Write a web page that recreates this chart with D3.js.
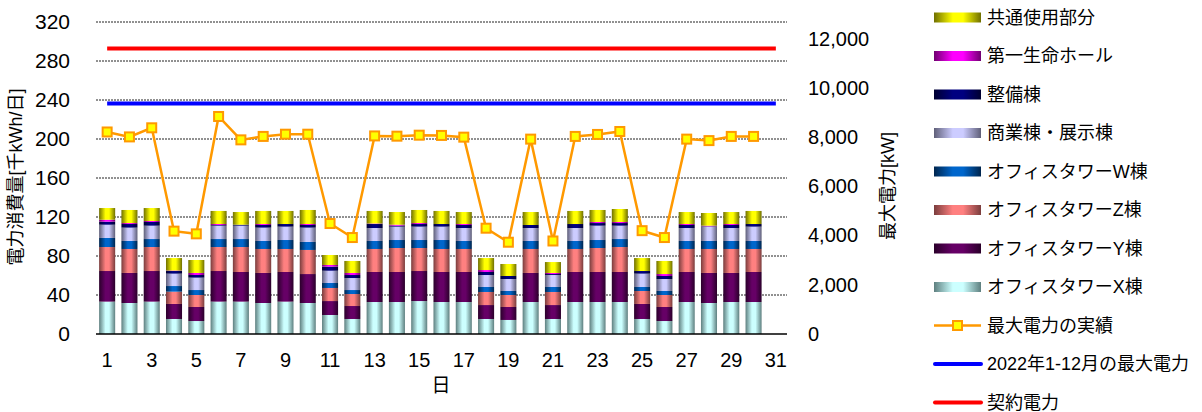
<!DOCTYPE html>
<html>
<head>
<meta charset="utf-8">
<script src="https://cdn.jsdelivr.net/npm/d3@7"></script>
<style>
  body { margin: 0; background: #fff; }
  svg text { font-family: "Liberation Sans", Arial, "Noto Sans CJK JP", sans-serif; fill: #000; }
</style>
</head>
<body>
<svg id="chart"></svg>
<script>
var width = 1202;
var height = 412;

// days on the x axis (the month has 31 slots, data for 30)
const days = d3.range(1, 32)
const tickDays = days.filter(d => d % 2 == 1)

// stacked series, bottom to top (千kWh/日)
const towerX = [33.2, 31.8, 33.2, 15.4, 13.3, 33.2, 33.2, 31.8, 33.2, 31.8, 19.5, 15.4, 32.8, 32.8, 33.8, 32.8, 32.8, 15.4, 14.4, 32.8, 15.4, 32.8, 32.8, 32.8, 15.4, 13.3, 32.8, 31.8, 32.8, 32.8]
const towerY = [31.4, 30.8, 31.4, 15.4, 14.4, 31.4, 30.4, 30.8, 30.4, 29.7, 14.3, 13.3, 30.8, 30.8, 30.8, 30.8, 30.8, 14.3, 13.3, 29.8, 14.3, 30.8, 30.8, 30.8, 15.4, 14.4, 30.8, 30.8, 29.8, 30.8]
const towerZ = [24.6, 24.6, 24.6, 12.6, 12.3, 24.6, 25.6, 24.6, 23.6, 24.7, 13.4, 12.3, 23.6, 24.6, 23.6, 23.6, 23.6, 13.4, 12.3, 24.6, 13.4, 23.6, 24.6, 25.6, 13.3, 12.3, 23.6, 24.6, 24.6, 23.6]
const towerW = [9.3, 8.2, 8.2, 5.8, 5.1, 8.2, 8.2, 8.2, 9.2, 8.2, 5.1, 4.1, 8.2, 8.2, 8.2, 9.2, 8.2, 5.1, 4.1, 8.2, 5.1, 8.2, 8.2, 8.2, 4.1, 4.1, 8.2, 8.2, 8.2, 8.2]
const shops = [13.6, 13.7, 13.7, 12.7, 12.7, 13.7, 13.7, 13.7, 13.7, 14.7, 12.6, 12.3, 13.3, 13.7, 13.7, 13.7, 13.3, 12.3, 12.3, 13.3, 12.3, 13.3, 14.7, 13.7, 13.7, 12.3, 13.3, 14.7, 13.3, 14.7]
const service = [3.1, 3.7, 3.8, 2.7, 2.7, 0.7, 1.0, 2.7, 2.7, 2.7, 4.2, 3.1, 4.1, 1.0, 2.7, 2.7, 3.1, 3.1, 3.1, 3.1, 1.0, 4.1, 2.7, 2.7, 2.7, 3.1, 3.1, 0.4, 3.1, 2.7]
const hall = [2.0, 1.0, 1.0, 0.5, 2.1, 1.0, 0, 1.0, 0, 1.0, 1.7, 2.1, 0.5, 1.0, 1.0, 0, 1.0, 2.0, 0, 0, 1.1, 0, 1.1, 1.1, 0, 2.0, 1.0, 0.6, 1.0, 0]
const common = [12.0, 13.4, 13.3, 12.8, 13.3, 13.4, 13.0, 13.4, 13.4, 14.4, 10.2, 12.3, 12.9, 13.0, 13.4, 13.4, 12.3, 12.3, 12.3, 13.3, 11.2, 13.4, 12.3, 13.3, 13.3, 13.4, 12.3, 13.0, 12.3, 13.4]

// daily peak power (kW)
const peakKw = [8210, 8010, 8380, 4180, 4070, 8840, 7890, 8030, 8120, 8120, 4490, 3920, 8050, 8040, 8080, 8070, 8000, 4300, 3730, 7920, 3780, 8030, 8110, 8230, 4200, 3920, 7920, 7860, 8030, 8030]
const maxPower2022 = 9370
const contractPower = 11600

const seriesNames = ['オフィスタワーX棟', 'オフィスタワーY棟', 'オフィスタワーZ棟', 'オフィスタワーW棟', '商業棟・展示棟', '整備棟', '第一生命ホール', '共通使用部分']
const seriesData = [towerX, towerY, towerZ, towerW, shops, service, hall, common]
// [edge colour, centre colour]
const seriesColors = [
    ['#5e7f7f', '#ccffff'],
    ['#2a002a', '#660066'],
    ['#7a3d3d', '#ff8080'],
    ['#00254d', '#0066cc'],
    ['#5f5f78', '#ccccff'],
    ['#000030', '#000080'],
    ['#700070', '#ff00ff'],
    ['#6f6f00', '#ffff00']
]

const leftTicks = d3.range(0, 321, 40)
const rightTicks = d3.range(0, 12001, 2000)

var svg = d3.select('#chart').attr('width', width).attr('height', height)

var x = d3.scaleBand().domain(days).range([96, 787]).paddingInner(0.28).paddingOuter(0.14)
var yLeft = d3.scaleLinear().domain([0, 320]).range([334, 22])
var yRight = d3.scaleLinear().domain([0, 12680]).range([334, 22])

// gradients for the cylinder look
var defs = svg.append('defs')
seriesColors.forEach((c, i) => {
    let g = defs.append('linearGradient').attr('id', 'grad' + i)
        .attr('x1', '0%').attr('x2', '100%').attr('y1', '0%').attr('y2', '0%')
    g.append('stop').attr('offset', '0%').attr('stop-color', c[0])
    g.append('stop').attr('offset', '40%').attr('stop-color', c[1])
    g.append('stop').attr('offset', '62%').attr('stop-color', c[1])
    g.append('stop').attr('offset', '100%').attr('stop-color', c[0])
})

// gridlines
svg.append('g')
    .selectAll('line')
    .data(leftTicks.filter(d => d > 0))
    .enter()
    .append('line')
    .attr('x1', 96).attr('x2', 787)
    .attr('y1', d => yLeft(d)).attr('y2', d => yLeft(d))
    .attr('stroke', '#222')
    .attr('stroke-width', 1)
    .attr('stroke-dasharray', '2,1')

// stacked bars
var table = towerX.map((v, i) => {
    let row = { day: i + 1 }
    seriesData.forEach((s, k) => { row['s' + k] = s[i] })
    return row
})
var stack = d3.stack().keys(seriesData.map((s, k) => 's' + k))
var layers = stack(table)

svg.append('g')
    .selectAll('g')
    .data(layers)
    .enter()
    .append('g')
    .attr('fill', (d, i) => 'url(#grad' + i + ')')
    .selectAll('rect')
    .data(d => d)
    .enter()
    .append('rect')
    .attr('x', d => x(d.data.day))
    .attr('width', x.bandwidth())
    .attr('y', d => yLeft(d[1]))
    .attr('height', d => Math.max(0, yLeft(d[0]) - yLeft(d[1])))

// baseline
svg.append('line')
    .attr('x1', 96).attr('x2', 787)
    .attr('y1', yLeft(0)).attr('y2', yLeft(0))
    .attr('stroke', '#000').attr('stroke-width', 1.5)

// reference lines
var cx = d => x(d) + x.bandwidth() / 2
var flatLine = d3.line().x(d => cx(d.day)).y(d => yRight(d.v))

svg.append('path')
    .datum(days.map(d => ({ day: d, v: maxPower2022 })))
    .attr('d', flatLine)
    .attr('fill', 'none').attr('stroke', '#0000ff').attr('stroke-width', 4)

svg.append('path')
    .datum(days.map(d => ({ day: d, v: contractPower })))
    .attr('d', flatLine)
    .attr('fill', 'none').attr('stroke', '#ff0000').attr('stroke-width', 4)

// daily peak line
var peakData = peakKw.map((v, i) => ({ day: i + 1, v: v }))
svg.append('path')
    .datum(peakData)
    .attr('d', flatLine)
    .attr('fill', 'none').attr('stroke', '#ff9900').attr('stroke-width', 2.5)

svg.append('g')
    .selectAll('rect')
    .data(peakData)
    .enter()
    .append('rect')
    .attr('x', d => cx(d.day) - 4.5)
    .attr('y', d => yRight(d.v) - 4.5)
    .attr('width', 9).attr('height', 9)
    .attr('fill', '#ffff00')
    .attr('stroke', '#ff9900')
    .attr('stroke-width', 2)

// axes
var leftAxis = svg.append('g')
    .attr('transform', 'translate(96,0)')
    .call(d3.axisLeft(yLeft).tickValues(leftTicks).tickSize(0).tickPadding(26))
leftAxis.select('.domain').remove()
leftAxis.selectAll('text').style('font-size', '21px')

var rightAxis = svg.append('g')
    .attr('transform', 'translate(787,0)')
    .call(d3.axisRight(yRight).tickValues(rightTicks).tickSize(0).tickPadding(21).tickFormat(d3.format(',')))
rightAxis.select('.domain').remove()
rightAxis.selectAll('text').style('font-size', '20px')

var bottomAxis = svg.append('g')
    .attr('transform', 'translate(0,334)')
    .call(d3.axisBottom(x).tickValues(tickDays).tickSize(0).tickPadding(19))
bottomAxis.select('.domain').remove()
bottomAxis.selectAll('text').style('font-size', '20px')

// axis titles
svg.append('text')
    .attr('transform', 'translate(22,177) rotate(-90)')
    .attr('text-anchor', 'middle')
    .style('font-size', '18px')
    .text('電力消費量[千kWh/日]')

svg.append('text')
    .attr('transform', 'translate(894,186) rotate(-90)')
    .attr('text-anchor', 'middle')
    .style('font-size', '18px')
    .text('最大電力[kW]')

svg.append('text')
    .attr('x', 441).attr('y', 392)
    .attr('text-anchor', 'middle')
    .style('font-size', '19px')
    .text('日')

// legend
var legendItems = []
for (let k = seriesNames.length - 1; k >= 0; k--) {
    legendItems.push({ name: seriesNames[k], type: 'bar', idx: k })
}
legendItems.push({ name: '最大電力の実績', type: 'marker' })
legendItems.push({ name: '2022年1-12月の最大電力', type: 'line', color: '#0000ff' })
legendItems.push({ name: '契約電力', type: 'line', color: '#ff0000' })

var legend = svg.append('g')
    .selectAll('g')
    .data(legendItems)
    .enter()
    .append('g')
    .attr('transform', (d, i) => 'translate(934,' + (17.5 + i * 38.5) + ')')

legend.filter(d => d.type == 'bar')
    .append('rect')
    .attr('x', 0).attr('y', -5).attr('width', 47).attr('height', 10)
    .attr('fill', d => 'url(#grad' + d.idx + ')')

legend.filter(d => d.type == 'line')
    .append('line')
    .attr('x1', 1).attr('x2', 47)
    .attr('stroke', d => d.color).attr('stroke-width', 4).attr('stroke-linecap', 'round')

var markerItem = legend.filter(d => d.type == 'marker')
markerItem.append('line')
    .attr('x1', 0).attr('x2', 47)
    .attr('stroke', '#ff9900').attr('stroke-width', 2.5)
markerItem.append('rect')
    .attr('x', 19).attr('y', -4.5).attr('width', 9).attr('height', 9)
    .attr('fill', '#ffff00').attr('stroke', '#ff9900').attr('stroke-width', 2)

legend.append('text')
    .attr('x', 53).attr('dy', '0.36em')
    .style('font-size', '18px')
    .text(d => d.name)
</script>
</body>
</html>
